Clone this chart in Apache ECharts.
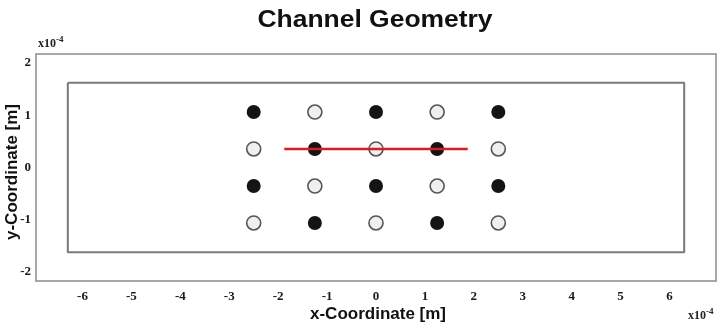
<!DOCTYPE html>
<html><head><meta charset="utf-8">
<script src="https://cdn.jsdelivr.net/npm/echarts@6/dist/echarts.min.js"></script>
<style>html,body{margin:0;padding:0;background:#fff}#c{width:717px;height:328px}</style>
</head><body><div id="c"></div>
<script>
// units: x10^-4 m
var xTicks = [-6,-5,-4,-3,-2,-1,0,1,2,3,4,5,6];
var yTicks = [-2,-1,0,1,2];
var channelX = [-6.3, 6.3, 6.3, -6.3, -6.3];
var channelY = [1.62, 1.62, -1.62, -1.62, 1.62];
var colX = [-2.5, -1.25, 0, 1.25, 2.5];
var rowY = [1.06, 0.355, -0.355, -1.06];
// 1 = filled (black), 0 = open, per row top→bottom, per column left→right
var pattern = [
  [1,0,1,0,1],
  [0,1,0,1,0],
  [1,0,1,0,1],
  [0,1,0,1,0]
];
var redLineX = [-1.875, 1.875];
var redLineY = [0.355, 0.355];

var filled = [], open = [];
rowY.forEach(function(y, r){ colX.forEach(function(x, c){ (pattern[r][c] ? filled : open).push([x, y]); }); });
var rect = channelX.map(function(x,i){ return [x, channelY[i]]; });
var red = redLineX.map(function(x,i){ return [x, redLineY[i]]; });

var labelFont = {fontFamily:'Liberation Serif', fontWeight:'bold', fontSize:13, color:'#1a1a1a'};
var chart = echarts.init(document.getElementById('c'));
chart.setOption({
  animation:false,
  grid:{left:36, right:1, top:54, bottom:47, show:true, borderColor:'#8c8c8c', borderWidth:1.5},
  xAxis:{type:'value', min:-6.95, max:6.95,
    axisLine:{show:false}, axisTick:{show:false}, splitLine:{show:false},
    axisLabel:Object.assign({customValues:xTicks, margin:9}, labelFont)},
  yAxis:{type:'value', min:-2.17, max:2.17,
    axisLine:{show:false}, axisTick:{show:false}, splitLine:{show:false},
    axisLabel:Object.assign({customValues:yTicks, margin:5}, labelFont)},
  series:[
    {type:'line', data:rect, symbol:'none', lineStyle:{color:'#7a7a7a', width:2}, z:2},
    {type:'scatter', data:open, symbolSize:14, itemStyle:{color:'#efefef', borderColor:'#555', borderWidth:1.6, opacity:1}, z:3},
    {type:'scatter', data:filled, symbolSize:14, itemStyle:{color:'#141414', opacity:1}, z:3},
    {type:'line', data:red, symbol:'none', lineStyle:{color:'#d81e1e', width:2.5}, z:5}
  ],
  graphic:[
    {type:'text', x:375, y:21, scaleX:1.15, z:10, style:{text:'Channel Geometry', font:'bold 23px "Liberation Sans", Arial', fill:'#111', textAlign:'center', textVerticalAlign:'middle'}},
    {type:'text', x:378, y:314, z:10, style:{text:'x-Coordinate [m]', font:'bold 17px "Liberation Sans", Arial', fill:'#111', textAlign:'center', textVerticalAlign:'middle'}},
    {type:'text', x:12, y:172, rotation:Math.PI/2, z:10, style:{text:'y-Coordinate [m]', font:'bold 17px "Liberation Sans", Arial', fill:'#111', textAlign:'center', textVerticalAlign:'middle'}},
    {type:'text', x:38, y:44, z:10, style:{text:'{b|x10}{s|-4}', textVerticalAlign:'middle', rich:{b:{fontFamily:'Liberation Serif', fontWeight:'bold', fontSize:12, fill:'#222'}, s:{fontFamily:'Liberation Serif', fontWeight:'bold', fontSize:9, fill:'#222', verticalAlign:'top', padding:[0,0,8,0]}}}},
    {type:'text', x:688, y:316, z:10, style:{text:'{b|x10}{s|-4}', textVerticalAlign:'middle', rich:{b:{fontFamily:'Liberation Serif', fontWeight:'bold', fontSize:12, fill:'#222'}, s:{fontFamily:'Liberation Serif', fontWeight:'bold', fontSize:9, fill:'#222', verticalAlign:'top', padding:[0,0,8,0]}}}}
  ]
});
</script></body></html>
